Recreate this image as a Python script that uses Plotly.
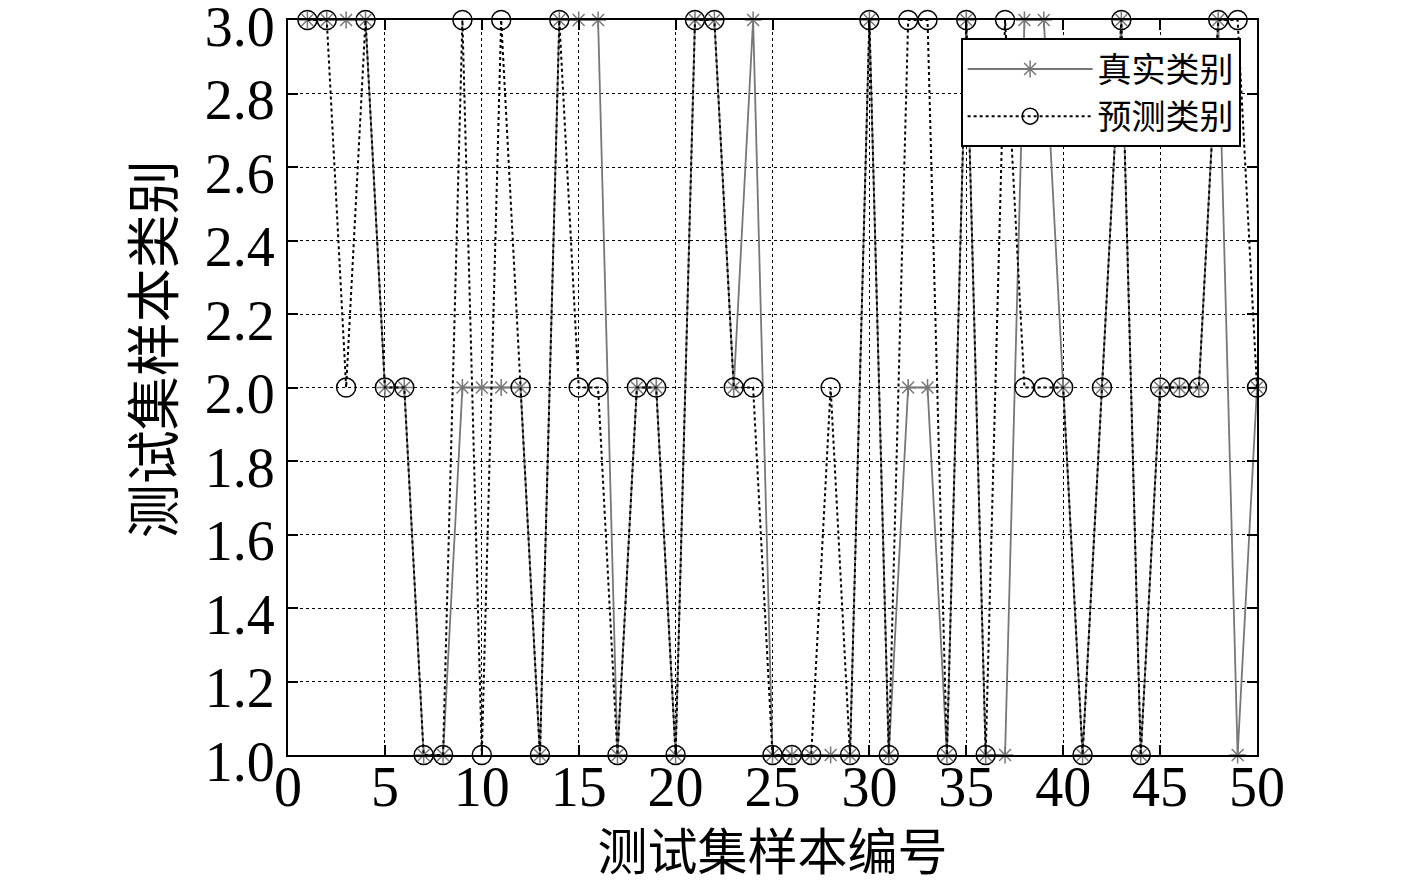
import plotly.graph_objects as go

# 测试集样本编号
sample_idx = list(range(1, 51))

# 真实类别
true_class = [3, 3, 3, 3, 2, 2, 1, 1, 2, 2,
              2, 2, 1, 3, 3, 3, 1, 2, 2, 1,
              3, 3, 2, 3, 1, 1, 1, 1, 1, 3,
              1, 2, 2, 1, 3, 1, 1, 3, 3, 2,
              1, 2, 3, 1, 2, 2, 2, 3, 1, 2]

# 预测类别
pred_class = [3, 3, 2, 3, 2, 2, 1, 1, 3, 1,
              3, 2, 1, 3, 2, 2, 1, 2, 2, 1,
              3, 3, 2, 2, 1, 1, 1, 2, 1, 3,
              1, 3, 3, 1, 3, 1, 3, 2, 2, 2,
              1, 2, 3, 1, 2, 2, 2, 3, 3, 2]

# 坐标轴刻度
x_ticks = [0, 5, 10, 15, 20, 25, 30, 35, 40, 45, 50]
y_ticks = [1.0, 1.2, 1.4, 1.6, 1.8, 2.0, 2.2, 2.4, 2.6, 2.8, 3.0]

serif = "Liberation Serif, Times New Roman, serif"
cjk = "Noto Sans CJK SC"

fig = go.Figure()

fig.add_trace(go.Scatter(
    x=sample_idx, y=true_class, mode='lines+markers', name='真实类别',
    line=dict(color='#777777', width=1.8),
    marker=dict(symbol='asterisk-open', size=14, color='#777777',
                line=dict(color='#777777', width=1.5)),
    cliponaxis=False))

fig.add_trace(go.Scatter(
    x=sample_idx, y=pred_class, mode='lines+markers', name='预测类别',
    line=dict(color='black', width=2, dash='dot'),
    marker=dict(symbol='circle-open', size=19, color='black',
                line=dict(color='black', width=1.5)),
    cliponaxis=False))

axis_common = dict(
    showline=True, mirror='ticks', linecolor='black', linewidth=2,
    ticks='inside', ticklen=10, tickwidth=2, tickcolor='black',
    showgrid=True, gridcolor='black', gridwidth=1, griddash='dot',
    zeroline=False, automargin=False, ticklabeloverflow='allow',
    tickfont=dict(family=serif, size=56, color='black'),
)

fig.update_xaxes(range=[0, 50], tickvals=x_ticks, ticklabelstandoff=-18,
                 title=dict(text='测试集样本编号', font=dict(family=cjk, size=50, color='black'),
                            standoff=20),
                 **axis_common)
fig.update_yaxes(range=[1, 3], tickvals=y_ticks, tickformat='.1f',
                 ticklabelshift=6,
                 **axis_common)

# 纵轴标题 (略高于绘图区中心)
fig.add_annotation(text='测试集样本类别', xref='paper', yref='paper',
                   x=-0.1424, y=0.552, xanchor='center', yanchor='middle',
                   textangle=-90, showarrow=False,
                   font=dict(family=cjk, size=54, color='black'))

fig.update_layout(
    width=1417, height=876,
    margin=dict(l=280, r=168, t=12, b=129),
    plot_bgcolor='white', paper_bgcolor='white',
    legend=dict(x=0.9831, y=0.975, xanchor='right', yanchor='top',
                bgcolor='white', bordercolor='black', borderwidth=2,
                font=dict(family=cjk, size=34, color='black'),
                itemwidth=125, tracegroupgap=0),
    showlegend=True,
)

fig.write_html("out.html")
